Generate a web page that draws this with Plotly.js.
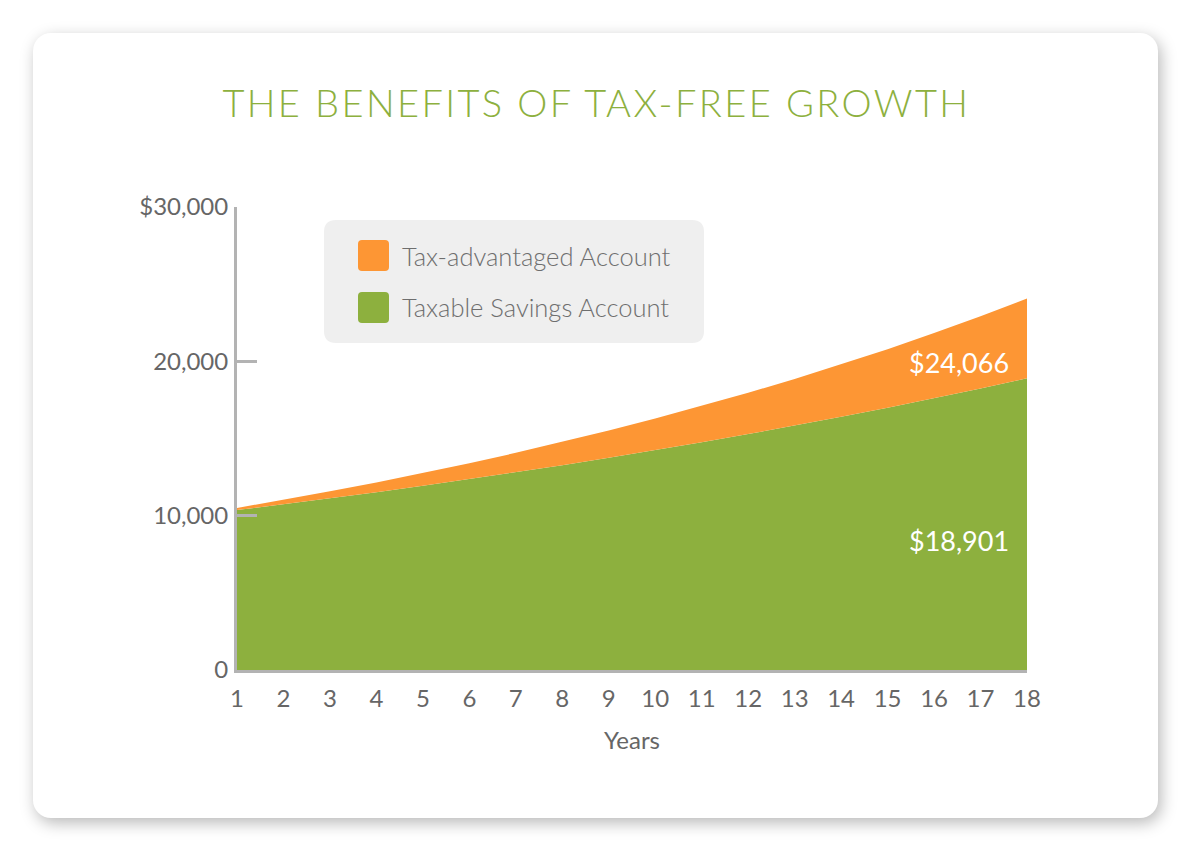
<!DOCTYPE html>
<html>
<head>
<meta charset="utf-8">
<script src="https://cdn.plot.ly/plotly-3.0.1.min.js"></script>
<style>
  html, body { margin: 0; padding: 0; background: #ffffff; width: 1200px; height: 860px; overflow: hidden; }
  #card { position: absolute; left: 33px; top: 33px; width: 1125px; height: 785px; background: #fff;
          border-radius: 18px; box-shadow: 3px 5px 16px rgba(0,0,0,0.28); }
  #chart { position: absolute; left: 0; top: 0; width: 1200px; height: 860px; }
  .gtitle { letter-spacing: 2.4px; }
</style>
</head>
<body>
<div id="card"></div>
<div id="chart"></div>
<script>
// ---- data ----
const years = [1,2,3,4,5,6,7,8,9,10,11,12,13,14,15,16,17,18];
const taxAdvantaged = [10500,11025,11576,12155,12763,13401,14071,14775,15513,16289,17103,17959,18856,19799,20789,21829,22920,24066];
const taxableSavings = [10360,10733,11119,11520,11934,12364,12809,13270,13748,14243,14756,15287,15837,16407,16998,17610,18244,18901];
const seriesNames = ['Tax-advantaged Account', 'Taxable Savings Account'];
const yTickVals = [0, 10000, 20000, 30000];
const yTickText = ['0', '10,000', '20,000', '$30,000'];
const titleText = 'THE BENEFITS OF TAX-FREE GROWTH';
const xTitle = 'Years';

const ORANGE = '#fd9634';
const GREEN = '#8db03e';
const FONT = 'Lato, "Noto Sans", sans-serif';

// plot area in pixels (for paper-coordinate helpers)
const L = 237, R = 1027, T = 207, B = 670;
const px2x = p => (p - L) / (R - L);
const px2y = p => (B - p) / (B - T);
function roundRect(x0, y0, x1, y1, r) {
  const X = px2x, Y = px2y;
  return 'M' + X(x0 + r) + ',' + Y(y0) +
    ' L' + X(x1 - r) + ',' + Y(y0) +
    ' Q' + X(x1) + ',' + Y(y0) + ' ' + X(x1) + ',' + Y(y0 + r) +
    ' L' + X(x1) + ',' + Y(y1 - r) +
    ' Q' + X(x1) + ',' + Y(y1) + ' ' + X(x1 - r) + ',' + Y(y1) +
    ' L' + X(x0 + r) + ',' + Y(y1) +
    ' Q' + X(x0) + ',' + Y(y1) + ' ' + X(x0) + ',' + Y(y1 - r) +
    ' L' + X(x0) + ',' + Y(y0 + r) +
    ' Q' + X(x0) + ',' + Y(y0) + ' ' + X(x0 + r) + ',' + Y(y0) + ' Z';
}
const fmt = v => '$' + v.toLocaleString('en-US');

const traces = [
  { x: years, y: taxableSavings, type: 'scatter', mode: 'lines', name: seriesNames[1],
    fill: 'tozeroy', fillcolor: GREEN, line: { width: 0, color: GREEN }, showlegend: false, hoverinfo: 'x+y' },
  { x: years, y: taxAdvantaged, type: 'scatter', mode: 'lines', name: seriesNames[0],
    fill: 'tonexty', fillcolor: ORANGE, line: { width: 0, color: ORANGE }, showlegend: false, hoverinfo: 'x+y' }
];

const layout = {
  width: 1200, height: 860,
  paper_bgcolor: 'rgba(0,0,0,0)', plot_bgcolor: 'rgba(0,0,0,0)',
  margin: { l: L, r: 1200 - R, t: T, b: 860 - B, pad: 0 },
  font: { family: FONT, color: '#666666' },
  title: { text: titleText, xref: 'container', yref: 'container', x: 0.497, y: 1 - 104 / 860,
           xanchor: 'center', yanchor: 'middle',
           font: { family: FONT, size: 38, color: '#8db03e', weight: 300 } },
  xaxis: {
    range: [1, 18], tickvals: years, ticktext: years.map(String),
    showline: true, linecolor: '#b3b3b3', linewidth: 3, ticks: '', showgrid: false, zeroline: false,
    tickfont: { family: FONT, size: 24, color: '#666666' }, ticklabelstandoff: 5,
    title: { text: xTitle, font: { family: FONT, size: 24, color: '#666666' }, standoff: 22 },
    fixedrange: true
  },
  yaxis: {
    range: [0, 30000], tickvals: yTickVals, ticktext: yTickText,
    showline: true, linecolor: '#b3b3b3', linewidth: 3, ticks: 'inside', ticklen: 20, tickwidth: 3, tickcolor: '#b3b3b3',
    showgrid: false, zeroline: false,
    tickfont: { family: FONT, size: 24, color: '#666666' }, ticklabelstandoff: 1,
    fixedrange: true
  },
  showlegend: false,
  shapes: [
    { type: 'path', xref: 'paper', yref: 'paper', path: roundRect(324, 220, 704, 343, 12), fillcolor: '#efefef', line: { width: 0 }, layer: 'above' },
    { type: 'path', xref: 'paper', yref: 'paper', path: roundRect(358, 240, 389, 271, 4), fillcolor: ORANGE, line: { width: 0 }, layer: 'above' },
    { type: 'path', xref: 'paper', yref: 'paper', path: roundRect(358, 292, 389, 323, 4), fillcolor: GREEN, line: { width: 0 }, layer: 'above' }
  ],
  annotations: [
    { xref: 'paper', yref: 'paper', x: px2x(400), y: px2y(256), xanchor: 'left', yanchor: 'middle', showarrow: false,
      text: seriesNames[0], font: { family: FONT, size: 25.5, color: '#6e6e6e', weight: 300 } },
    { xref: 'paper', yref: 'paper', x: px2x(400), y: px2y(307), xanchor: 'left', yanchor: 'middle', showarrow: false,
      text: seriesNames[1], font: { family: FONT, size: 25.5, color: '#6e6e6e', weight: 300 } },
    { x: years[years.length - 1], y: taxAdvantaged[taxAdvantaged.length - 1], xanchor: 'right', yanchor: 'middle',
      xshift: -16, yshift: -64, showarrow: false, text: fmt(taxAdvantaged[taxAdvantaged.length - 1]),
      font: { family: FONT, size: 27, color: '#ffffff' } },
    { x: years[years.length - 1], y: taxableSavings[taxableSavings.length - 1], xanchor: 'right', yanchor: 'middle',
      xshift: -16, yshift: -162, showarrow: false, text: fmt(taxableSavings[taxableSavings.length - 1]),
      font: { family: FONT, size: 27, color: '#ffffff' } }
  ]
};

Plotly.newPlot('chart', traces, layout, { displayModeBar: false, staticPlot: true });
</script>
</body>
</html>
